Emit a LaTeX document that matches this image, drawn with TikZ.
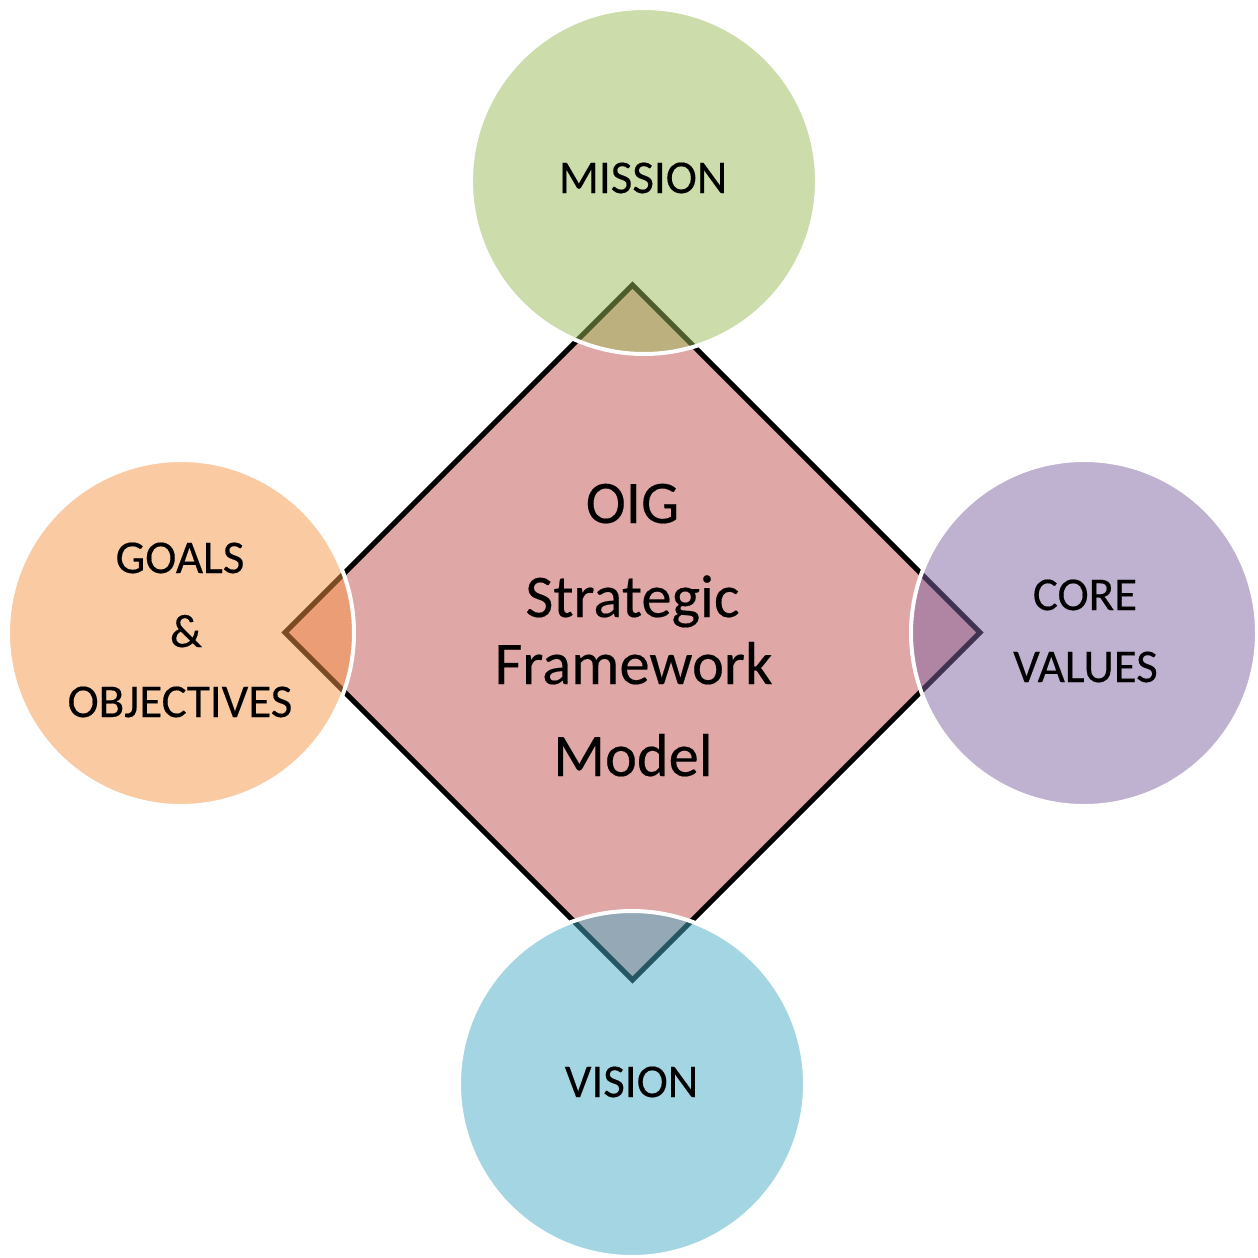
\documentclass[tikz,border=0pt]{standalone}
\usepackage{fontspec}
\setmainfont{Carlito}
\newfontfamily\labelfont[FakeBold=0.3]{Carlito}
\definecolor{accRed}{HTML}{C0504D}
\definecolor{accGreen}{HTML}{9BBB59}
\definecolor{accPurple}{HTML}{8064A2}
\definecolor{accAqua}{HTML}{4BACC6}
\definecolor{accOrange}{HTML}{F79646}
\begin{document}
\begin{tikzpicture}[x=1pt,y=-1pt,
  bubble/.style={circle, minimum size=346pt, inner sep=0pt, draw=white,
    line width=4pt, fill opacity=0.5, text opacity=1},
  smalltxt/.style={anchor=base, inner sep=0pt, font=\labelfont\fontsize{47}{50}\selectfont},
  bigtxt/.style={anchor=base, inner sep=0pt, font=\labelfont\fontsize{60.5}{64}\selectfont}
]
% canvas
\fill[white] (0,0) rectangle (1258,1258);
\useasboundingbox (0,0) rectangle (1258,1258);

% central diamond
\coordinate (dT) at (632.5,285);
\coordinate (dR) at (980,632.5);
\coordinate (dB) at (632.5,980);
\coordinate (dL) at (285,632.5);
\draw[line width=5pt, fill=accRed, fill opacity=0.5] (dT) -- (dR) -- (dB) -- (dL) -- cycle;

% surrounding circles
\node[bubble, fill=accGreen]  (mission) at (644,181) {};
\node[bubble, fill=accAqua]   (vision)  at (632,1084) {};
\node[bubble, fill=accOrange] (goals)   at (181,633) {};
\node[bubble, fill=accPurple] (core)    at (1084,633) {};

% central title
\node[bigtxt] (t1) at (632.5,523) {OIG};
\node[bigtxt] (t2) at (632.5,617) {Strategic};
\node[bigtxt] (t3) at (633.5,684) {Framework};
\node[bigtxt] (t4) at (633,776) {Model};

% circle labels
\node[smalltxt] (lm)  at (643,193)  {MISSION};
\node[smalltxt] (lv)  at (631.5,1097) {VISION};
\node[smalltxt] (lg1) at (180,573)  {GOALS};
\node[smalltxt] (lg2) at (186,647)  {\&};
\node[smalltxt] (lg3) at (180,717)  {OBJECTIVES};
\node[smalltxt] (lc1) at (1085,610) {CORE};
\node[smalltxt] (lc2) at (1085.5,682) {VALUES};
\end{tikzpicture}
\end{document}
